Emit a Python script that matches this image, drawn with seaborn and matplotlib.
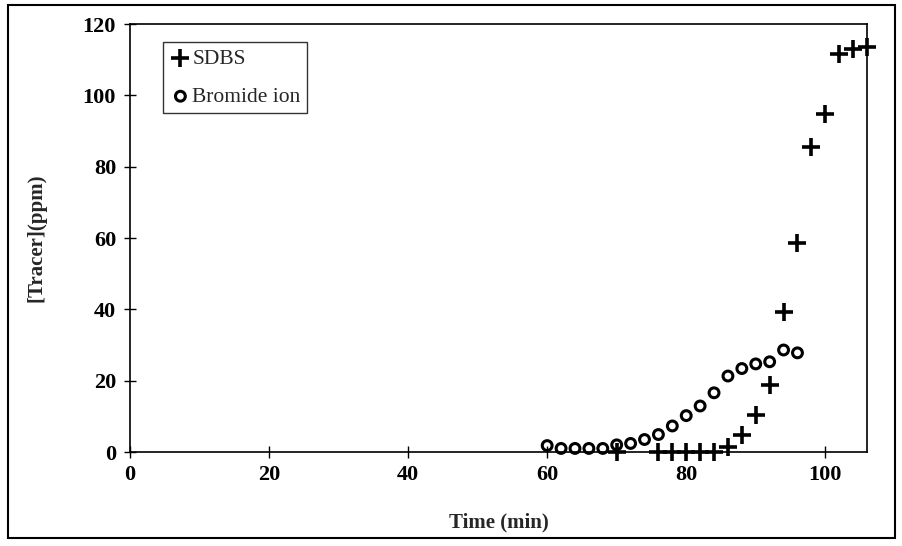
import matplotlib
matplotlib.use("Agg")
import matplotlib.pyplot as plt
import seaborn as sns
import pandas as pd
from matplotlib.patches import Rectangle

# Data
sdbs_time = [70, 76, 78, 80, 82, 84, 86, 88, 90, 92, 94, 96, 98, 100, 102, 104, 106]
sdbs_conc = [0, 0, 0, 0, 0, 0, 1.5, 4.8, 10.4, 18.8, 39.3, 58.6, 85.5, 94.8, 111.6, 113.0, 113.5]
br_time = [60, 62, 64, 66, 68, 70, 72, 74, 76, 78, 80, 82, 84, 86, 88, 90, 92, 94, 96]
br_conc = [1.8, 1.0, 1.0, 1.0, 1.0, 2.0, 2.4, 3.5, 4.9, 7.3, 10.2, 12.9, 16.6, 21.3, 23.4, 24.7, 25.3, 28.6, 27.8]
x_ticks = [0, 20, 40, 60, 80, 100]
y_ticks = [0, 20, 40, 60, 80, 100, 120]

sns.set_theme(style="white")
plt.rcParams['font.family'] = ['Liberation Serif', 'DejaVu Serif']

fig = plt.figure(figsize=(9.03, 5.46), dpi=100)
ax = fig.add_axes([130/903, 1-452/546, (867-130)/903, (452-24)/546])

sdbs = pd.DataFrame({"t": sdbs_time, "c": sdbs_conc})
br = pd.DataFrame({"t": br_time, "c": br_conc})

sns.scatterplot(data=sdbs, x="t", y="c", marker="+", s=150, linewidth=2.6,
                color="black", label="SDBS", ax=ax, clip_on=False, zorder=3)
sns.scatterplot(data=br, x="t", y="c", marker="o", s=50, linewidth=2.2,
                facecolor="none", edgecolor="black", label="Bromide ion", ax=ax,
                clip_on=False, zorder=3)

ax.set_xlim(0, 106)
ax.set_ylim(0, 120)
ax.set_xticks(x_ticks)
ax.set_yticks(y_ticks)
ax.set_xticklabels([str(v) for v in x_ticks], fontsize=16, fontweight="bold")
ax.set_yticklabels([str(v) for v in y_ticks], fontsize=16, fontweight="bold")
ax.tick_params(axis="both", direction="inout", length=8, width=1, colors="black", pad=6)
ax.tick_params(axis="x", pad=5)
ax.xaxis.set_ticks_position("bottom")
ax.yaxis.set_ticks_position("left")
for s in ax.spines.values():
    s.set_color("black")
    s.set_linewidth(1.2)

ax.set_xlabel("Time (min)", fontsize=15, fontweight="bold", labelpad=20)
ax.set_ylabel("[Tracer](ppm)", fontsize=15, fontweight="bold", labelpad=26)

leg = ax.legend(loc="upper left", bbox_to_anchor=(0.045, 0.958), borderaxespad=0,
                frameon=True, fancybox=False, fontsize=15.5, handletextpad=0.05,
                handlelength=1.0, borderpad=0.3, labelspacing=0.85)
leg.get_frame().set_edgecolor("black")
leg.get_frame().set_linewidth(1.0)

fig.patches.append(Rectangle((8/903, 8/546), 887/903, 533/546, transform=fig.transFigure,
                             fill=False, edgecolor="black", linewidth=1.5))

fig.savefig("out.png", dpi=100)
